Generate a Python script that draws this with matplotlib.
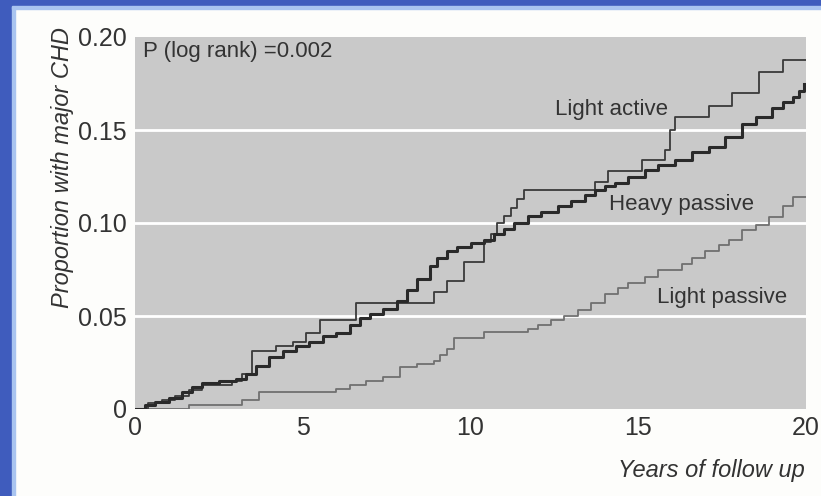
import matplotlib
matplotlib.use('Agg')
import matplotlib.pyplot as plt
from matplotlib.patches import Rectangle

plt.rcParams['font.family'] = ['Liberation Sans Narrow', 'Liberation Sans', 'DejaVu Sans']

# Light active: (year, proportion) at each step
la_years = [0, 0.4, 0.8, 1.2, 1.6, 2.0, 2.9, 3.2, 3.5, 4.2, 4.7, 5.1, 5.5, 6.6, 8.9, 9.3,
            9.8, 10.4, 10.6, 10.8, 11.0, 11.2, 11.4, 11.6, 13.7, 14.1, 15.1, 15.8, 15.95,
            16.1, 17.1, 17.8, 18.6, 19.3, 20]
la_vals = [0, 0.003, 0.005, 0.007, 0.010, 0.013, 0.015, 0.019, 0.031, 0.034, 0.036, 0.041,
           0.048, 0.057, 0.063, 0.069, 0.079, 0.090, 0.094, 0.100, 0.104, 0.108, 0.113, 0.118,
           0.122, 0.128, 0.134, 0.139, 0.150, 0.157, 0.163, 0.170, 0.181, 0.1876, 0.1876]

# Heavy passive
hp_years = [0, 0.3, 0.6, 1.0, 1.4, 1.7, 2.0, 2.5, 3.0, 3.3, 3.6, 4.0, 4.4, 4.8, 5.2, 5.6,
            6.0, 6.4, 6.7, 7.0, 7.4, 7.8, 8.1, 8.4, 8.8, 9.0, 9.3, 9.6, 10.0, 10.4, 10.7,
            11.0, 11.3, 11.7, 12.1, 12.6, 13.0, 13.4, 13.7, 14.0, 14.3, 14.7, 15.2, 15.6,
            16.1, 16.6, 17.1, 17.6, 18.1, 18.5, 19.0, 19.3, 19.6, 19.8, 19.95]
hp_vals = [0, 0.002, 0.004, 0.006, 0.009, 0.012, 0.014, 0.015, 0.016, 0.019, 0.023, 0.028,
           0.031, 0.034, 0.036, 0.039, 0.041, 0.045, 0.049, 0.051, 0.054, 0.058, 0.064,
           0.070, 0.077, 0.081, 0.085, 0.087, 0.089, 0.091, 0.094, 0.097, 0.100, 0.104,
           0.106, 0.109, 0.112, 0.115, 0.118, 0.120, 0.1215, 0.125, 0.1285, 0.131, 0.134,
           0.138, 0.141, 0.146, 0.153, 0.157, 0.162, 0.165, 0.168, 0.171, 0.175]

# Light passive
lp_years = [0, 1.6, 3.2, 3.7, 6.0, 6.4, 6.9, 7.4, 7.9, 8.4, 8.9, 9.1, 9.3, 9.5, 10.4, 11.7,
            12.0, 12.4, 12.8, 13.2, 13.6, 14.0, 14.4, 14.7, 15.2, 15.6, 16.3, 16.6, 17.0,
            17.4, 17.7, 18.1, 18.5, 18.9, 19.3, 19.6, 20]
lp_vals = [0, 0.002, 0.005, 0.009, 0.011, 0.013, 0.015, 0.017, 0.0226, 0.024, 0.026, 0.029,
           0.032, 0.038, 0.0415, 0.043, 0.045, 0.048, 0.050, 0.053, 0.057, 0.062, 0.065,
           0.068, 0.071, 0.075, 0.078, 0.081, 0.085, 0.088, 0.091, 0.096, 0.099, 0.103,
           0.109, 0.114, 0.114]

y_ticks = [0, 0.05, 0.10, 0.15, 0.20]
y_ticklabels = ['0', '0.05', '0.10', '0.15', '0.20']
x_ticks = [0, 5, 10, 15, 20]

fig = plt.figure(figsize=(8.21, 4.96), dpi=100, facecolor='#fdfdfb')
# blue frame of the screenshot
fig.patches.append(Rectangle((0, 0), 12 / 821, 1, transform=fig.transFigure,
                             color='#3f5cbd', zorder=0))
fig.patches.append(Rectangle((12 / 821, 0), 3 / 821, 1, transform=fig.transFigure,
                             color='#a9c4f0', zorder=0))
fig.patches.append(Rectangle((0, 1 - 6 / 496), 1, 6 / 496, transform=fig.transFigure,
                             color='#3f5cbd', zorder=0))
fig.patches.append(Rectangle((12 / 821, 1 - 9 / 496), 1, 3 / 496, transform=fig.transFigure,
                             color='#a9c4f0', zorder=0))

ax = fig.add_axes([135 / 821, 87 / 496, 671 / 821, 372 / 496])
ax.set_facecolor('#c9c9c9')
for s in ax.spines.values():
    s.set_visible(False)

for g in [0.05, 0.10, 0.15]:
    ax.axhline(g, color='white', lw=2, zorder=1)

ax.step(lp_years, lp_vals, where='post', color='#707070', lw=1.3, zorder=3)
ax.step(la_years, la_vals, where='post', color='#3a3a3a', lw=1.3, zorder=4)
ax.step(hp_years, hp_vals, where='post', color='#2a2a2a', lw=2.2, zorder=5)

ax.set_xlim(0, 20)
ax.set_ylim(0, 0.20)
ax.set_xticks(x_ticks)
ax.set_yticks(y_ticks)
ax.set_yticklabels(y_ticklabels)
ax.tick_params(length=0, labelsize=18, colors='#333333')
ax.tick_params(axis='y', pad=6)
ax.tick_params(axis='x', pad=5)

ax.text(0.25, 0.192, 'P (log rank) =0.002', fontsize=16, color='#333333', va='center')
ax.text(14.2, 0.161, 'Light active', fontsize=16, color='#333333', va='center', ha='center')
ax.text(16.3, 0.1097, 'Heavy passive', fontsize=16, color='#333333', va='center', ha='center')
ax.text(17.5, 0.060, 'Light passive', fontsize=16, color='#333333', va='center', ha='center')

fig.text(62 / 821, 1 - 168 / 496, 'Proportion with major CHD', rotation=90, style='italic',
         fontsize=17, color='#333333', ha='center', va='center')
fig.text(805 / 821, 1 - 470 / 496, 'Years of follow up', style='italic',
         fontsize=17, color='#333333', ha='right', va='center')

fig.savefig('out.png', dpi=100, facecolor=fig.get_facecolor())
